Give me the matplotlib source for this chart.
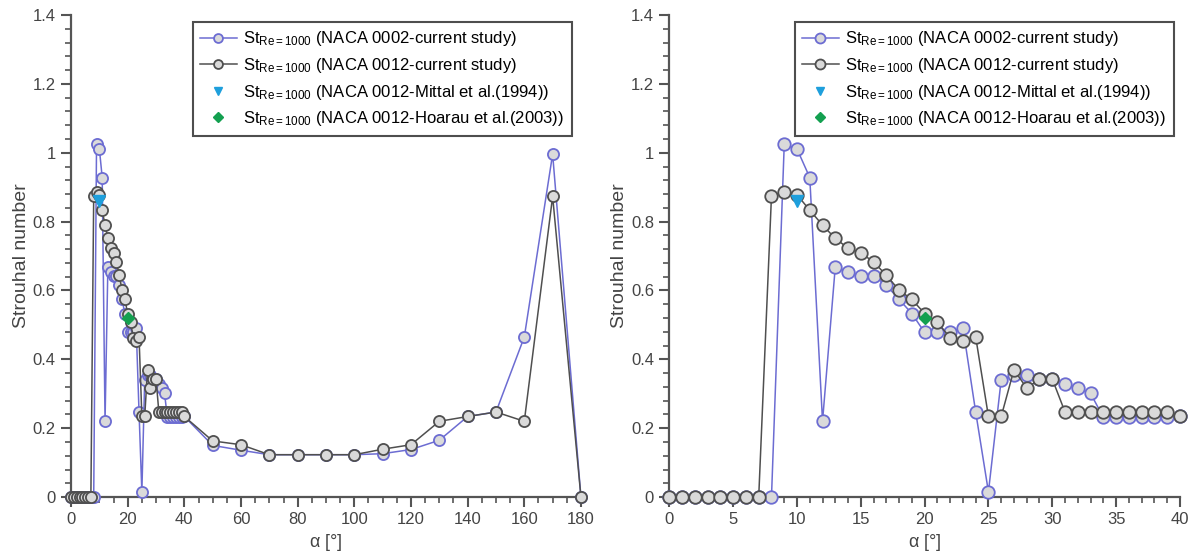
import numpy as np
import matplotlib
matplotlib.use('Agg')
import matplotlib.pyplot as plt
from matplotlib.ticker import MultipleLocator

plt.rcParams['font.family'] = ['Liberation Sans', 'DejaVu Sans']
plt.rcParams['mathtext.fontset'] = 'custom'
plt.rcParams['mathtext.rm'] = 'Liberation Sans'
plt.rcParams['mathtext.it'] = 'Liberation Sans'

# angle of attack [deg]: every degree up to 40, then every 10 up to 180
alpha = list(range(0, 41)) + [50, 60, 70, 80, 90, 100, 110, 120, 130, 140, 150, 160, 170, 180]

# Strouhal number, NACA 0002 (current study)
st_0002 = [0, 0, 0, 0, 0, 0, 0, 0, 0, 1.024, 1.011,
           0.928, 0.220, 0.669, 0.654, 0.641, 0.643, 0.615, 0.574, 0.533, 0.478,
           0.480, 0.480, 0.492, 0.247, 0.015, 0.341, 0.355, 0.355, 0.343, 0.343,
           0.329, 0.316, 0.301, 0.232, 0.232, 0.232, 0.232, 0.232, 0.232, 0.234,
           0.150, 0.136, 0.123, 0.123, 0.123, 0.123, 0.126, 0.138, 0.165, 0.234,
           0.247, 0.465, 0.996, 0]

# Strouhal number, NACA 0012 (current study)
st_0012 = [0, 0, 0, 0, 0, 0, 0, 0, 0.875, 0.887, 0.878,
           0.833, 0.790, 0.751, 0.723, 0.709, 0.683, 0.644, 0.601, 0.574, 0.533,
           0.507, 0.463, 0.452, 0.465, 0.234, 0.234, 0.370, 0.316, 0.343, 0.343,
           0.247, 0.247, 0.247, 0.247, 0.247, 0.247, 0.247, 0.247, 0.247, 0.234,
           0.163, 0.152, 0.123, 0.123, 0.123, 0.123, 0.139, 0.152, 0.220, 0.234,
           0.247, 0.220, 0.873, 0]

# reference results for NACA 0012
mittal_alpha, mittal_st = [10], [0.86]
hoarau_alpha, hoarau_st = [20], [0.52]

labels = [r'St$_{\mathrm{Re=1000}}$ (NACA 0002-current study)',
          r'St$_{\mathrm{Re=1000}}$ (NACA 0012-current study)',
          r'St$_{\mathrm{Re=1000}}$ (NACA 0012-Mittal et al.(1994))',
          r'St$_{\mathrm{Re=1000}}$ (NACA 0012-Hoarau et al.(2003))']

blue = '#6c6cd2'
grey = '#4f4f4f'
face = '#dadada'
axcol = '#555555'

fig = plt.figure(figsize=(11.9, 5.56), dpi=100)
ax1 = fig.add_axes([0.0597, 0.106, 0.4285, 0.867])
ax2 = fig.add_axes([0.5625, 0.106, 0.4290, 0.867])

a = np.array(alpha)
s2 = np.array(st_0002)
s12 = np.array(st_0012)


def draw(ax, amax, major, minor, ms, legx):
    m = a <= amax
    h1, = ax.plot(a[m], s2[m], '-o', color=blue, lw=1.1, ms=ms, mfc=face,
                  mec=blue, mew=1.3, clip_on=False, zorder=3)
    h2, = ax.plot(a[m], s12[m], '-o', color=grey, lw=1.1, ms=ms, mfc=face,
                  mec=grey, mew=1.3, clip_on=False, zorder=4)
    h3, = ax.plot(mittal_alpha, mittal_st, 'v', color='#1e9fdc', ms=8, ls='none', zorder=5)
    h4, = ax.plot(hoarau_alpha, hoarau_st, 'D', color='#13a050', ms=6, ls='none', zorder=5)
    ax.set_xlim(0, amax)
    ax.set_ylim(0, 1.4)
    ax.xaxis.set_major_locator(MultipleLocator(major))
    ax.xaxis.set_minor_locator(MultipleLocator(minor))
    ax.yaxis.set_minor_locator(MultipleLocator(0.04))
    ax.set_yticks(np.arange(0, 1.41, 0.2))
    ax.set_yticklabels(['0', '0.2', '0.4', '0.6', '0.8', '1', '1.2', '1.4'])
    for sp in ['top', 'right']:
        ax.spines[sp].set_visible(False)
    for sp in ['left', 'bottom']:
        ax.spines[sp].set_color(axcol)
        ax.spines[sp].set_linewidth(1.6)
    ax.tick_params(which='major', length=7, width=1.5, color=axcol,
                   labelsize=12, labelcolor='#444444', pad=4)
    ax.tick_params(which='minor', length=4, width=1.2, color=axcol)
    ax.set_xlabel(r'$\alpha$ [°]', fontsize=13, color='#444444', labelpad=3)
    ax.set_ylabel('Strouhal number', fontsize=14, color='#444444', labelpad=2)
    leg = ax.legend([h1, h2, h3, h4], labels, loc='upper right',
                    bbox_to_anchor=(legx, 1 - 22 / 556),
                    bbox_transform=fig.transFigure, borderaxespad=0,
                    fontsize=12, frameon=True, fancybox=False,
                    handlelength=2.2, handletextpad=0.4, labelspacing=0.45,
                    borderpad=0.45, markerscale=0.8)
    leg.get_frame().set_edgecolor('#222222')
    leg.get_frame().set_linewidth(1.5)


draw(ax1, 180, 20, 5, 8, 572 / 1190)
draw(ax2, 40, 5, 1, 9, 1174 / 1190)

fig.savefig('out.png', dpi=100)
